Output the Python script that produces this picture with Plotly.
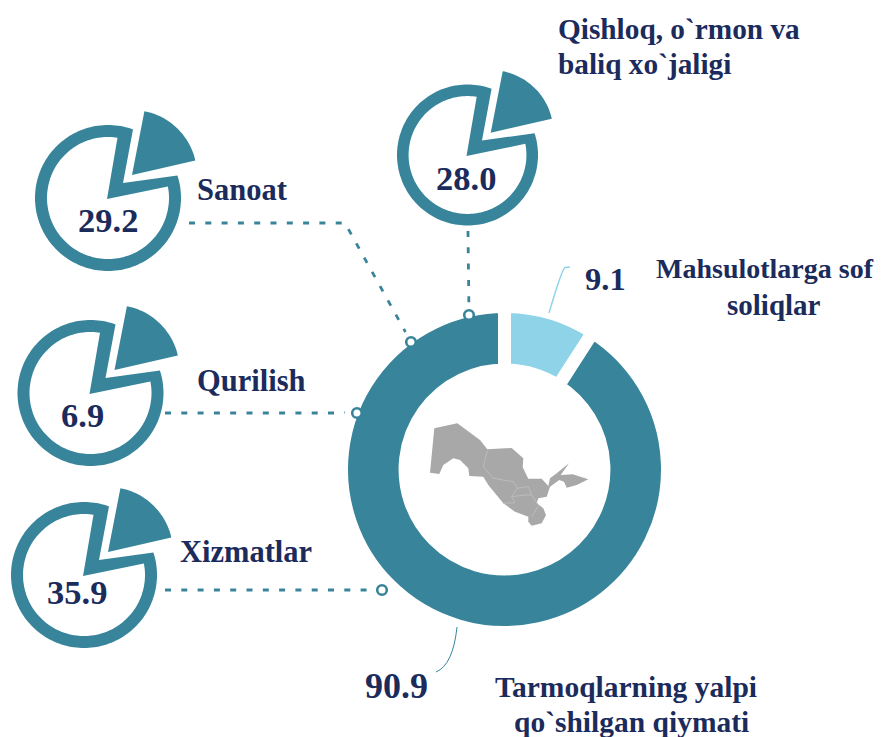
import numpy as np
import plotly.graph_objects as go

# ---- data ----
main_labels = ["Mahsulotlarga sof soliqlar", "Tarmoqlarning yalpi qo`shilgan qiymati"]
main_values = [9.1, 90.9]
sector_labels = ["Sanoat", "Qishloq, o`rmon va baliq xo`jaligi", "Qurilish", "Xizmatlar"]
sector_values = [29.2, 28.0, 6.9, 35.9]

# ---- styling / layout ----
W, H = 889, 737
TEAL = "#38859b"
LIGHT = "#8fd3e8"
NAVY = "#1b2b5c"
FONT = "Liberation Serif"

icon_centers = [(108, 198, 73), (467.5, 155, 70.5), (90.5, 393, 73), (84, 575, 73)]
number_pos = [(108, 220), (466, 178), (82, 415), (77, 592)]


def xy_path(pts, close=True):
    s = "M " + " L ".join(f"{x:.1f},{y:.1f}" for x, y in pts)
    return s + (" Z" if close else "")


def polar(cx, cy, r, deg):
    a = np.radians(deg)
    return cx + r * np.sin(a), cy - r * np.cos(a)


def icon_shapes(cx, cy, R):
    k = R / 73
    shapes = []
    # ring with notch: outer contour
    outer = [polar(cx, cy, R, d) for d in np.arange(72, 380.01, 2)]
    outer.append((cx + 15 * k, cy - 15 * k))
    inner = [polar(cx, cy, 61 * k, d) for d in np.arange(79, 370.01, 2)]
    inner.append((cx - 1 * k, cy + 1 * k))
    path = xy_path(outer) + " " + xy_path(inner)
    shapes.append(dict(type="path", path=path, fillcolor=TEAL, line_width=0, fillrule="evenodd",
                       xref="x", yref="y", layer="below"))
    # exploded wedge
    ax, ay = cx + 24 * k, cy - 23 * k
    wedge = [(ax, ay)] + [polar(ax, ay, 65 * k, d) for d in np.arange(11, 78.01, 2)]
    shapes.append(dict(type="path", path=xy_path(wedge), fillcolor=TEAL, line_width=0,
                       xref="x", yref="y", layer="below"))
    return shapes


# map silhouette, decorative, traced in a 3x crop of the centre
MAP_OFF = (400, 380)
map_outline = [(103,145),(172,130),(240,180),(262,208),(335,204),(370,235),(368,262),(385,296),(425,296),
               (445,318),(450,295),(470,280),(507,250),(482,285),(518,283),(565,298),(530,315),(500,323),
               (492,305),(478,300),(450,320),(440,350),(415,355),(410,370),(430,385),(438,405),(425,430),
               (395,437),(385,425),(385,410),(345,395),(310,370),(265,315),(250,290),(208,288),(205,265),
               (180,240),(160,235),(130,255),(118,282),(90,278)]
map_inner = [[(262,212),(250,260),(280,295),(340,305),(352,325),(335,350),(375,345),(395,345),(385,320),(350,325)],
             [(335,350),(345,368),(310,370)], [(395,345),(415,375)], [(415,378),(395,410)]]


def mp(pts):
    return [(MAP_OFF[0] + x / 3, MAP_OFF[1] + y / 3) for x, y in pts]


shapes = []
for c in icon_centers:
    shapes += icon_shapes(*c)
shapes.append(dict(type="path", path=xy_path(mp(map_outline)), fillcolor="#a8a8a8", line_width=0,
                   xref="x", yref="y", layer="above"))
for seg in map_inner:
    shapes.append(dict(type="path", path=xy_path(mp(seg), close=False), line=dict(color="#bcbcbc", width=1),
                       xref="x", yref="y", layer="above"))
# thin curved leaders
shapes.append(dict(type="path", path="M 570,267 L 565,267.5 Q 562,269 549,313", line=dict(color=LIGHT, width=1.4),
                   xref="x", yref="y", layer="above"))
shapes.append(dict(type="path", path="M 457,627 Q 453,665 436,672", line=dict(color=TEAL, width=1),
                   xref="x", yref="y", layer="above"))

fig = go.Figure()

# dashed leaders with end markers
leaders = [
    ([189, 345, 411], [223, 223, 342]),
    ([468, 469], [231, 315]),
    ([165, 357], [413, 413]),
    ([165, 382], [590, 590]),
]
for lx, ly in leaders:
    fig.add_trace(go.Scatter(x=lx, y=ly, mode="lines", hoverinfo="skip", showlegend=False,
                             line=dict(color=TEAL, width=2.8, dash="6px,10.3px")))
    ex, ey, er = lx[-1], ly[-1], 4.8
    shapes.append(dict(type="circle", x0=ex - er, x1=ex + er, y0=ey - er, y1=ey + er, fillcolor="white",
                       line=dict(color=TEAL, width=2.6), xref="x", yref="y", layer="above"))

# main donut
cx, cy, R = 504.5, 469.5, 163
fig.add_trace(go.Pie(
    labels=main_labels, values=main_values, sort=False, direction="clockwise", rotation=0,
    hole=0.61, textinfo="none", showlegend=False,
    marker=dict(colors=[LIGHT, TEAL], line=dict(color="white", width=13)),
    domain=dict(x=[(cx - R) / W, (cx + R) / W], y=[1 - (cy + R) / H, 1 - (cy - R) / H]),
))

ann = []


def txt(x, y, s, size, anchor="center"):
    ann.append(dict(x=x, y=y, text=s, xref="x", yref="y", showarrow=False, xanchor=anchor, yanchor="middle",
                    font=dict(family=FONT, size=size, color=NAVY)))


for (x, y), v in zip(number_pos, sector_values):
    txt(x, y, f"<b>{v:.1f}</b>", 34.5)
txt(195, 189.5, "<b>Sanoat</b>", 30.5, "left")
txt(194.5, 381, "<b>Qurilish</b>", 30.5, "left")
txt(177.5, 552, "<b>Xizmatlar</b>", 30.5, "left")
txt(556, 29, "<b>Qishloq, o`rmon va</b>", 29.3, "left")
txt(556, 64, "<b>baliq xo`jaligi</b>", 29.3, "left")
txt(765, 268, "<b>Mahsulotlarga sof</b>", 28)
txt(773.5, 305, "<b>soliqlar</b>", 29)
txt(605, 279, f"<b>{main_values[0]:.1f}</b>", 32.5)
txt(396, 686, f"<b>{main_values[1]:.1f}</b>", 36)
txt(626, 687, "<b>Tarmoqlarning yalpi</b>", 29.5)
txt(631, 722, "<b>qo`shilgan qiymati</b>", 29.5)

fig.update_layout(
    width=W, height=H, margin=dict(l=0, r=0, t=0, b=0), paper_bgcolor="white", plot_bgcolor="rgba(0,0,0,0)",
    xaxis=dict(range=[0, W], visible=False, fixedrange=True),
    yaxis=dict(range=[H, 0], visible=False, fixedrange=True),
    shapes=shapes, annotations=ann, showlegend=False,
)
fig.write_html("out.html", config=dict(displayModeBar=False, responsive=False),
               post_script="document.body.style.margin='0';document.body.style.overflow='hidden';")
